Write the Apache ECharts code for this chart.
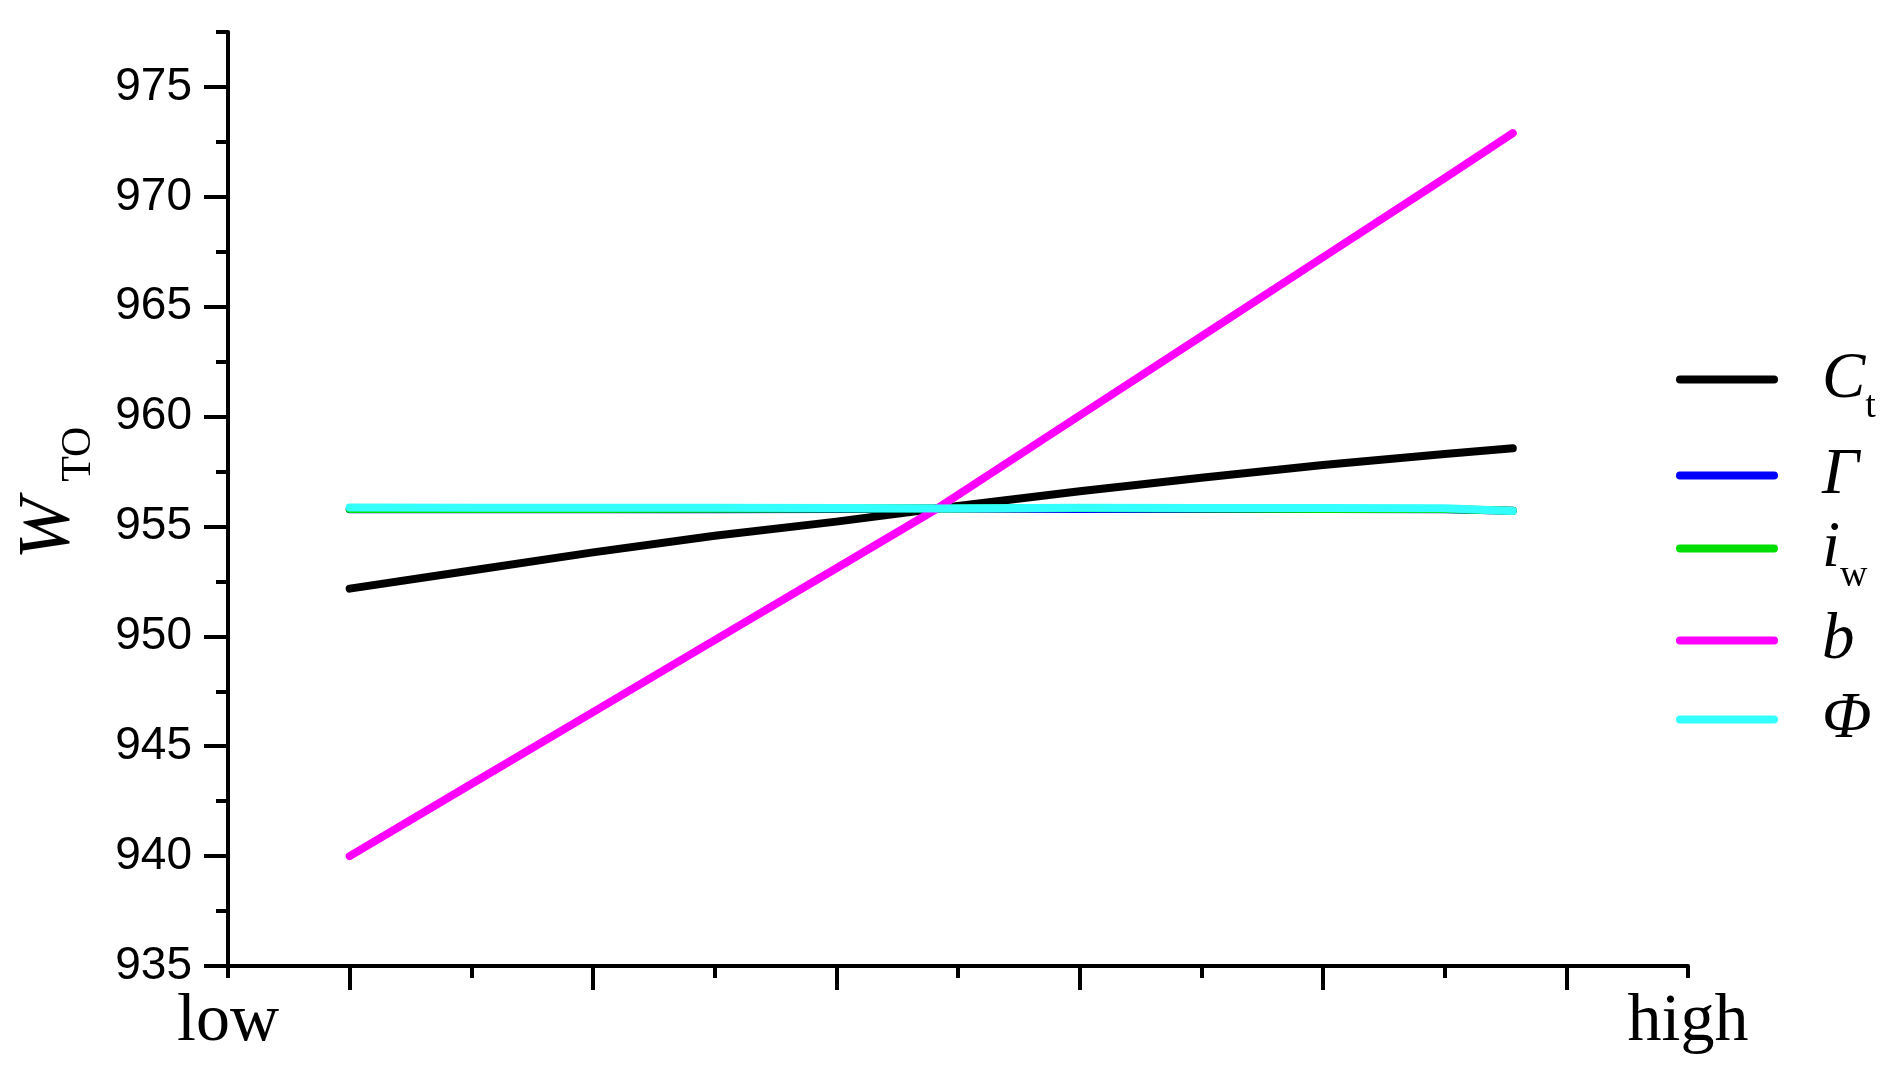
<!DOCTYPE html>
<html><head><meta charset="utf-8">
<script src="https://cdn.jsdelivr.net/npm/echarts@6/dist/echarts.min.js"></script>
<style>html,body{margin:0;padding:0;background:#fff}#c{width:1901px;height:1080px}</style>
</head><body><div id="c"></div>
<script>
// ---- data ----
const xs = [1, 2, 3, 4, 5, 5.83, 7, 8, 9, 10, 10.56];
const seriesNames = ['Ct', 'Γ', 'iw', 'b', 'Φ'];
const valCt    = [952.17, 953.0, 953.82, 954.58, 955.22, 955.82, 956.6, 957.22, 957.8, 958.3, 958.56];
const valGamma = [955.78, 955.78, 955.78, 955.78, 955.79, 955.82, 955.79, 955.79, 955.79, 955.78, 955.72];
const valIw    = [955.80, 955.79, 955.80, 955.81, 955.82, 955.82, 955.84, 955.82, 955.80, 955.80, 955.71];
const valB     = [940.0, 943.28, 946.55, 949.83, 953.1, 955.82, 960.05, 963.65, 967.25, 970.85, 972.9];
const valPhi   = [955.86, 955.85, 955.85, 955.85, 955.84, 955.82, 955.85, 955.84, 955.84, 955.83, 955.70];
const yTicks = [935, 940, 945, 950, 955, 960, 965, 970, 975];
const yMinorTicks = [937.5, 942.5, 947.5, 952.5, 957.5, 962.5, 967.5, 972.5, 977.5];
const xMajorTicks = [1, 3, 5, 7, 9, 11];
const xMinorTicks = [0, 2, 4, 6, 8, 10, 12];
const xTickLabels = ['low', 'high'];
const xLabelPositions = [0, 12];

// ---- styling ----
const colors = ['#000000', '#0000FF', '#00DD00', '#FF00FF', '#33FFFF'];
const legendRich = {
  'Ct': '{m|C}{s|t}',
  'Γ': '{m|Γ}',
  'iw': '{m|i}{s|w}',
  'b': '{m|b}',
  'Φ': '{m|Φ}'
};
const legendCenters = [380, 476, 549, 641, 720];
const serif = '"Liberation Serif", "Times New Roman", serif';
const sans = '"Liberation Sans", Arial, sans-serif';

const allVals = [valCt, valGamma, valIw, valB, valPhi];
const series = seriesNames.map((n, i) => ({
  name: n,
  type: 'line',
  data: xs.map((x, k) => [x, allVals[i][k]]),
  symbol: 'none',
  lineStyle: { color: colors[i], width: 8, cap: 'round', join: 'round' },
  itemStyle: { color: colors[i] },
  z: 2 + i,
  animation: false
}));

const legends = seriesNames.map((n, i) => ({
  data: [n],
  orient: 'vertical',
  left: 1671,
  top: legendCenters[i] - 38,
  icon: 'path://M4,0H98A4,4,0,0,1,98,8H4A4,4,0,0,1,4,0Z',
  itemWidth: 104,
  itemHeight: 8,
  selectedMode: false,
  formatter: name => legendRich[name],
  textStyle: {
    color: '#000',
    rich: {
      m: { fontFamily: serif, fontStyle: 'italic', fontSize: 65, lineHeight: 94, color: '#000', padding: [0, 0, 0, 38] },
      s: { fontFamily: serif, fontSize: 38, lineHeight: 38, color: '#000', verticalAlign: 'bottom' }
    }
  }
}));

const chart = echarts.init(document.getElementById('c'), null, { renderer: 'canvas' });
chart.setOption({
  backgroundColor: '#ffffff',
  animation: false,
  grid: { left: 228, top: 32, right: 213, bottom: 114, containLabel: false },
  legend: legends,
  xAxis: [
    {
      type: 'value', min: 0, max: 12, position: 'bottom',
      axisLine: { show: true, lineStyle: { color: '#000', width: 4 } },
      axisTick: { show: true, customValues: xMajorTicks, length: 24, inside: false, lineStyle: { color: '#000', width: 4 } },
      axisLabel: {
        show: true, customValues: xLabelPositions, margin: 22,
        formatter: v => xTickLabels[xLabelPositions.indexOf(v)],
        fontFamily: serif, fontSize: 68, color: '#000'
      },
      splitLine: { show: false }
    },
    {
      type: 'value', min: 0, max: 12, position: 'bottom',
      axisLine: { show: false },
      axisTick: { show: true, customValues: xMinorTicks, length: 12, inside: false, lineStyle: { color: '#000', width: 4 } },
      axisLabel: { show: false },
      splitLine: { show: false }
    }
  ],
  yAxis: [
    {
      type: 'value', min: 935, max: 977.5, interval: 5, position: 'left',
      axisLine: { show: true, lineStyle: { color: '#000', width: 4 } },
      axisTick: { show: true, customValues: yTicks, length: 24, inside: false, lineStyle: { color: '#000', width: 4 } },
      axisLabel: { show: true, customValues: yTicks, margin: 36, fontFamily: sans, fontSize: 46, color: '#000' },
      splitLine: { show: false },
      name: '{w|W}{t|TO}',
      nameLocation: 'middle',
      nameRotate: 90,
      nameGap: 128,
      nameTextStyle: {
        rich: {
          w: { fontFamily: serif, fontStyle: 'italic', fontSize: 74, lineHeight: 100, color: '#000', padding: [0, 0, 0, 12] },
          t: { fontFamily: serif, fontSize: 42, lineHeight: 42, color: '#000', verticalAlign: 'bottom', padding: [0, 0, 0, 16] }
        }
      }
    },
    {
      type: 'value', min: 935, max: 977.5, interval: 5, position: 'left',
      axisLine: { show: false },
      axisTick: { show: true, customValues: yMinorTicks, length: 12, inside: false, lineStyle: { color: '#000', width: 4 } },
      axisLabel: { show: false },
      splitLine: { show: false }
    }
  ],
  series: series
});
</script></body></html>
